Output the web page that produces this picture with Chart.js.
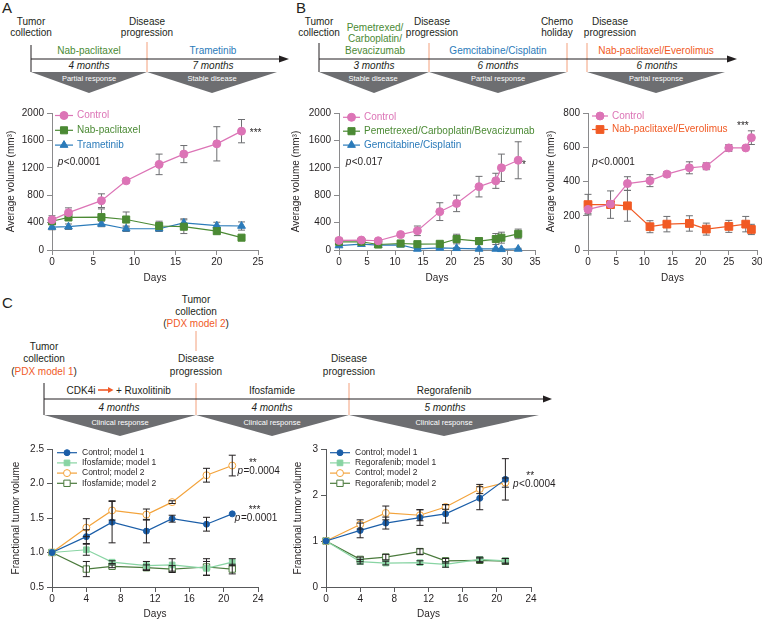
<!DOCTYPE html>
<html>
<head>
<meta charset="utf-8">
<script src="https://cdn.jsdelivr.net/npm/chart.js@4.4.0/dist/chart.umd.min.js"></script>
<style>
  body { margin: 0; background: #fff; overflow: hidden; }
  #fig { position: relative; width: 762px; height: 620px; overflow: hidden; }
  #fig canvas { position: absolute; }
  #tl { position: absolute; left: 0; top: 0; }
</style>
</head>
<body>
<div id="fig">
<svg id="tl" width="762" height="620" font-family="'Liberation Sans', Arial, sans-serif" font-size="10" fill="#231f20" text-anchor="middle">
  <!-- panel A timeline -->
  <text x="2" y="13" font-size="15" text-anchor="start">A</text>
  <text x="31" y="24.5">Tumor</text><text x="31" y="36">collection</text>
  <text x="147" y="24.5">Disease</text><text x="147" y="36">progression</text>
  <text x="89" y="53.5" fill="#4b8a34">Nab-paclitaxel</text>
  <text x="213" y="53.5" fill="#2b7bba">Trametinib</text>
  <line x1="31" y1="45" x2="31" y2="72" stroke="#231f20"/>
  <line x1="147" y1="42" x2="147" y2="72" stroke="#f3a07c"/>
  <line x1="31" y1="59" x2="281" y2="59" stroke="#231f20"/>
  <polygon points="279,55.5 289,59 279,62.5" fill="#231f20"/>
  <text x="89" y="69" font-style="italic">4 months</text>
  <text x="213" y="69" font-style="italic">7 months</text>
  <polygon points="31,72 147,72 89,93" fill="#6d6e71"/>
  <polygon points="147,72 277,72 212,93" fill="#6d6e71"/>
  <text x="89" y="80.5" fill="#fff" font-size="7.5">Partial response</text>
  <text x="212" y="80.5" fill="#fff" font-size="7.5">Stable disease</text>

  <!-- panel B timeline -->
  <text x="296" y="13" font-size="15" text-anchor="start">B</text>
  <text x="319" y="24.5">Tumor</text><text x="319" y="36">collection</text>
  <text x="375" y="30.5" fill="#4b8a34">Pemetrexed/</text>
  <text x="375" y="42" fill="#4b8a34">Carboplatin/</text>
  <text x="375" y="53.5" fill="#4b8a34">Bevacizumab</text>
  <text x="432" y="24.5">Disease</text><text x="432" y="36">progression</text>
  <text x="498" y="53.5" fill="#2b7bba">Gemcitabine/Cisplatin</text>
  <text x="557" y="24.5">Chemo</text><text x="557" y="36">holiday</text>
  <text x="610" y="24.5">Disease</text><text x="610" y="36">progression</text>
  <text x="656" y="53.5" fill="#f15a24">Nab-paclitaxel/Everolimus</text>
  <line x1="319" y1="43" x2="319" y2="72" stroke="#231f20"/>
  <line x1="429" y1="43" x2="429" y2="72" stroke="#f3a07c"/>
  <line x1="567" y1="43" x2="567" y2="72" stroke="#f3a07c"/>
  <line x1="587" y1="43" x2="587" y2="72" stroke="#f3a07c"/>
  <line x1="319" y1="59" x2="729" y2="59" stroke="#231f20"/>
  <polygon points="727,55.5 737,59 727,62.5" fill="#231f20"/>
  <text x="374" y="69" font-style="italic">3 months</text>
  <text x="498" y="69" font-style="italic">6 months</text>
  <text x="657" y="69" font-style="italic">6 months</text>
  <polygon points="319,72 429,72 374,93" fill="#6d6e71"/>
  <polygon points="429,72 567,72 498,93" fill="#6d6e71"/>
  <polygon points="587,72 725,72 656,93" fill="#6d6e71"/>
  <text x="373" y="80.5" fill="#fff" font-size="7.5">Stable disease</text>
  <text x="498" y="80.5" fill="#fff" font-size="7.5">Partial response</text>
  <text x="656" y="80.5" fill="#fff" font-size="7.5">Partial response</text>

  <!-- panel C timeline -->
  <text x="2" y="308" font-size="15" text-anchor="start">C</text>
  <text x="196" y="303">Tumor</text><text x="196" y="315">collection</text>
  <text x="196" y="327">(<tspan fill="#f05a28">PDX model 2</tspan>)</text>
  <line x1="196" y1="331" x2="196" y2="351" stroke="#f3a07c"/>
  <text x="44" y="350">Tumor</text><text x="44" y="362">collection</text>
  <text x="44" y="374.5">(<tspan fill="#f05a28">PDX model 1</tspan>)</text>
  <text x="196" y="362">Disease</text><text x="196" y="374.5">progression</text>
  <text x="349" y="362">Disease</text><text x="349" y="374.5">progression</text>
  <line x1="44" y1="383" x2="44" y2="415" stroke="#231f20"/>
  <line x1="196" y1="383" x2="196" y2="415" stroke="#f3a07c"/>
  <line x1="349" y1="383" x2="349" y2="415" stroke="#f3a07c"/>
  <line x1="44" y1="399" x2="545" y2="399" stroke="#231f20"/>
  <polygon points="543,395.5 552,399 543,402.5" fill="#231f20"/>
  <text x="95.5" y="393.5" text-anchor="end">CDK4i</text>
  <line x1="98" y1="390" x2="109" y2="390" stroke="#f05a28" stroke-width="1.6"/>
  <polygon points="108,387 113.5,390 108,393" fill="#f05a28"/>
  <text x="116" y="393.5" text-anchor="start">+ Ruxolitinib</text>
  <text x="272" y="393.5">Ifosfamide</text>
  <text x="444" y="393.5">Regorafenib</text>
  <text x="119" y="410.5" font-style="italic">4 months</text>
  <text x="272" y="410.5" font-style="italic">4 months</text>
  <text x="445" y="410.5" font-style="italic">5 months</text>
  <polygon points="44,415 196,415 120,436" fill="#6d6e71"/>
  <polygon points="196,415 349,415 272,436" fill="#6d6e71"/>
  <polygon points="349,415 539,415 444,436" fill="#6d6e71"/>
  <text x="120" y="424.5" fill="#fff" font-size="7.5">Clinical response</text>
  <text x="272" y="424.5" fill="#fff" font-size="7.5">Clinical response</text>
  <text x="444" y="424.5" fill="#fff" font-size="7.5">Clinical response</text>
</svg>
<canvas id="chartA"></canvas>
<canvas id="chartB1"></canvas>
<canvas id="chartB2"></canvas>
<canvas id="chartC1"></canvas>
<canvas id="chartC2"></canvas>
</div>
<script>
// ---- data ----
// panel A
const daysA = [0, 2, 6, 9, 13, 16, 20, 23];
const controlA = [440, 545, 720, 1010, 1250, 1400, 1550, 1735];
const controlAErr = [60, 70, 100, 30, 150, 125, 250, 170];
const nabA = [420, 475, 480, 445, 350, 340, 275, 180];
const nabAErr = [50, 40, 120, 110, 70, 100, 40, 30];
const trameA = [335, 340, 380, 310, 310, 395, 355, 350];
const trameAErr = [40, 40, 40, 40, 40, 60, 50, 60];

// panel B, left
const daysB1 = [0, 4, 7, 11, 14, 18, 21, 25, 28, 29, 32];
const controlB1 = [140, 145, 135, 225, 280, 560, 680, 925, 1010, 1200, 1310];
const controlB1Err = [30, 30, 20, 30, 70, 130, 120, 150, 110, 200, 270];
const pcbB1 = [120, 120, 80, 95, 85, 90, 160, 130, 160, 180, 235];
const pcbB1Err = [40, 40, 30, 30, 30, 30, 70, 50, 80, 80, 70];
const gcB1 = [65, 85, 70, 75, 15, 30, 25, 15, 15, 10, 15];
const gcB1Err = [20, 20, 20, 20, 10, 10, 10, 10, 10, 10, 10];

// panel B, right
const daysB2 = [0, 4, 7, 11, 14, 18, 21, 25, 28, 29];
const controlB2 = [237, 268, 388, 405, 443, 480, 489, 596, 596, 656];
const controlB2Err = [25, 20, 40, 35, 15, 35, 20, 20, 5, 40];
const nabEvB2 = [265, 265, 258, 136, 151, 155, 122, 138, 151, 120];
const nabEvB2Err = [60, 80, 90, 35, 45, 45, 35, 35, 45, 30];

// panel C
const daysC = [0, 4, 7, 11, 14, 18, 21];
const ctrl1C = [1.0, 1.23, 1.44, 1.31, 1.49, 1.41, 1.56];
const ctrl1CErr = [0, 0.1, 0.3, 0.17, 0.05, 0.1, 0];
const ifo1C = [1.0, 1.04, 0.86, 0.81, 0.82, 0.77, 0.86];
const ifo1CErr = [0, 0.08, 0.02, 0.06, 0.09, 0.1, 0.05];
const ctrl2C = [1.0, 1.36, 1.61, 1.55, 1.73, 2.12, 2.26];
const ctrl2CErr = [0, 0.13, 0.14, 0.08, 0.02, 0.1, 0.15];
const ifo2C = [1.0, 0.76, 0.80, 0.78, 0.76, 0.79, 0.76];
const ifo2CErr = [0, 0.11, 0.02, 0.04, 0.05, 0.12, 0.07];

const ctrl1R = [1.0, 1.23, 1.39, 1.51, 1.59, 1.93, 2.34];
const ctrl1RErr = [0, 0.16, 0.13, 0.17, 0.2, 0.25, 0.45];
const rego1R = [1.0, 0.55, 0.52, 0.53, 0.49, 0.6, 0.57];
const rego1RErr = [0, 0.05, 0.04, 0.04, 0.06, 0.05, 0.05];
const ctrl2R = [1.0, 1.36, 1.61, 1.56, 1.74, 2.13, 2.27];
const ctrl2RErr = [0, 0.1, 0.15, 0.12, 0.05, 0.1, 0.1];
const rego2R = [1.0, 0.6, 0.65, 0.77, 0.57, 0.58, 0.56];
const rego2RErr = [0, 0.05, 0.06, 0.06, 0.05, 0.05, 0.06];

// ---- styles ----
const FAM = "'Liberation Sans', Arial, sans-serif";
const INK = '#231f20';
const PINK = '#dc74b6', GREEN = '#4b8a34', BLUE = '#2b7bba', ORANGE = '#f15a24';
const C_BLUE = '#1b5ea8', C_LGREEN = '#88d4a3', C_ORANGE = '#f3a33b', C_DGREEN = '#4a7a3c';

function series(label, days, vals, err, color, style, radius, hollow) {
    return {
        label: label,
        err: err,
        data: days.map((d, i) => ({ x: d, y: vals[i] })),
        borderColor: color,
        backgroundColor: color,
        borderWidth: 1.2,
        pointStyle: style,
        pointRadius: radius,
        pointHoverRadius: radius,
        pointBackgroundColor: hollow ? '#ffffff' : color,
        pointBorderColor: color,
        pointBorderWidth: 1,
        tension: 0,
        clip: false
    };
}

function errorBarPlugin(color, front) {
    const draw = chart => {
        const ctx = chart.ctx, y = chart.scales.y;
        ctx.save();
        ctx.strokeStyle = color;
        ctx.lineWidth = 1;
        chart.data.datasets.forEach((ds, di) => {
            chart.getDatasetMeta(di).data.forEach((pt, i) => {
                const e = ds.err[i];
                if (!e) return;
                const v = ds.data[i].y;
                const top = y.getPixelForValue(v + e);
                const bot = y.getPixelForValue(Math.max(v - e, y.min));
                ctx.beginPath();
                ctx.moveTo(pt.x, top); ctx.lineTo(pt.x, bot);
                ctx.moveTo(pt.x - 3.5, top); ctx.lineTo(pt.x + 3.5, top);
                ctx.moveTo(pt.x - 3.5, bot); ctx.lineTo(pt.x + 3.5, bot);
                ctx.stroke();
            });
        });
        ctx.restore();
    };
    return front ? { id: 'errorBars', afterDatasetsDraw: draw } : { id: 'errorBars', beforeDatasetsDraw: draw };
}

// in-plot legend and text notes
function overlayPlugin(cfg) {
    return {
        id: 'overlay',
        afterDraw(chart) {
            const ctx = chart.ctx, ca = chart.chartArea, sx = chart.scales.x, sy = chart.scales.y;
            const lg = cfg.legend;
            ctx.save();
            ctx.textBaseline = 'middle';
            chart.data.datasets.forEach((ds, i) => {
                const lx = ca.left + lg.dx, ly = ca.top + lg.dy + i * lg.gap;
                ctx.strokeStyle = ds.borderColor;
                ctx.lineWidth = ds.borderWidth;
                ctx.beginPath(); ctx.moveTo(lx, ly); ctx.lineTo(lx + lg.len, ly); ctx.stroke();
                ctx.fillStyle = ds.pointBackgroundColor;
                ctx.strokeStyle = ds.pointBorderColor;
                ctx.lineWidth = ds.pointBorderWidth;
                Chart.helpers.drawPoint(ctx, { pointStyle: ds.pointStyle, radius: ds.pointRadius, rotation: 0, borderWidth: ds.pointBorderWidth }, lx + lg.len / 2, ly);
                ctx.font = lg.size + 'px ' + FAM;
                ctx.fillStyle = lg.textColor || ds.borderColor;
                ctx.textAlign = 'left';
                ctx.fillText(ds.label, lx + lg.len + lg.pad, ly);
            });
            cfg.notes.forEach(n => {
                const x = sx.getPixelForValue(n.x), y = sy.getPixelForValue(n.y);
                const norm = n.size + 'px ' + FAM;
                ctx.fillStyle = INK;
                if (n.italicP) {
                    ctx.font = 'italic ' + norm;
                    ctx.textAlign = 'left';
                    const wp = ctx.measureText('p').width;
                    ctx.fillText('p', x, y);
                    ctx.font = norm;
                    ctx.fillText(n.text, x + wp + 0.5, y);
                } else {
                    ctx.font = norm;
                    ctx.textAlign = n.align || 'left';
                    ctx.fillText(n.text, x, y);
                }
            });
            ctx.restore();
        }
    };
}

function buildChart(id, lay, ax, datasets, extra) {
    const cv = document.getElementById(id);
    const left = lay.l - lay.yW, top = lay.t - lay.padT;
    cv.width = lay.r + lay.padR - left;
    cv.height = lay.b + lay.xH - top;
    cv.style.left = left + 'px';
    cv.style.top = top + 'px';
    const fs = ax.fontSize, lh = fs * 1.2;
    const font = { family: FAM, size: fs };
    const grid = { display: true, drawOnChartArea: false, drawTicks: true, tickLength: 5, color: ax.color, lineWidth: 1 };
    const border = { color: ax.color, width: 1 };
    return new Chart(cv, {
        type: 'line',
        data: { datasets: datasets },
        options: {
            responsive: false,
            animation: false,
            devicePixelRatio: 1,
            layout: { padding: { left: 0, top: lay.padT, right: lay.padR, bottom: 0 } },
            plugins: { legend: { display: false }, tooltip: { enabled: false } },
            scales: {
                x: {
                    type: 'linear', min: ax.xMin, max: ax.xMax,
                    grid: grid, border: border,
                    ticks: { stepSize: ax.xStep, color: INK, font: font, padding: 1, maxRotation: 0, autoSkip: false },
                    title: { display: true, text: 'Days', color: INK, font: font,
                             padding: { top: 0, bottom: lay.b + lay.xH - lay.xTitleY - lh / 2 } },
                    afterFit: s => { s.height = lay.xH; }
                },
                y: {
                    type: 'linear', min: ax.yMin, max: ax.yMax,
                    grid: grid, border: border,
                    ticks: { stepSize: ax.yStep, color: INK, font: font, padding: 3, autoSkip: false,
                             callback: v => v.toFixed(ax.yDec) },
                    title: { display: true, text: ax.yTitle, color: INK, font: font,
                             padding: { top: lay.yTitleX - left - lh / 2, bottom: 0 } },
                    afterFit: s => { s.width = lay.yW; }
                }
            }
        },
        plugins: [errorBarPlugin(ax.errColor, ax.errFront), overlayPlugin(extra)]
    });
}

// ---- panel A ----
buildChart('chartA',
    { l: 52, t: 113, r: 258, b: 250, yW: 48, padT: 13, padR: 40, xH: 36, yTitleX: 11.7, xTitleY: 278 },
    { xMin: 0, xMax: 25, xStep: 5, yMin: 0, yMax: 2000, yStep: 400, yDec: 0, fontSize: 10,
      color: '#8a8a8c', yTitle: 'Average volume (mm³)', errColor: '#6d6e71', errFront: false },
    [
        series('Control', daysA, controlA, controlAErr, PINK, 'circle', 4, false),
        series('Nab-paclitaxel', daysA, nabA, nabAErr, GREEN, 'rect', 5, false),
        series('Trametinib', daysA, trameA, trameAErr, BLUE, 'triangle', 4.5, false)
    ],
    { legend: { dx: 3, dy: 2.5, gap: 14.8, len: 18, pad: 4, size: 10 },
      notes: [
          { x: 24.0, y: 1705, text: '***', size: 10 },
          { x: 0.7, y: 1286, text: '<0.0001', size: 10, italicP: true }
      ] });

// ---- panel B ----
buildChart('chartB1',
    { l: 339, t: 113, r: 535, b: 250, yW: 50, padT: 13, padR: 25, xH: 36, yTitleX: 296.7, xTitleY: 278 },
    { xMin: 0, xMax: 35, xStep: 5, yMin: 0, yMax: 2000, yStep: 400, yDec: 0, fontSize: 10,
      color: '#8a8a8c', yTitle: 'Average volume (mm³)', errColor: '#6d6e71', errFront: false },
    [
        series('Control', daysB1, controlB1, controlB1Err, PINK, 'circle', 4, false),
        series('Pemetrexed/Carboplatin/Bevacizumab', daysB1, pcbB1, pcbB1Err, GREEN, 'rect', 5, false),
        series('Gemcitabine/Cisplatin', daysB1, gcB1, gcB1Err, BLUE, 'triangle', 4.5, false)
    ],
    { legend: { dx: 4, dy: 4.3, gap: 13.9, len: 17, pad: 4, size: 10 },
      notes: [
          { x: 32.7, y: 1238, text: '*', size: 10 },
          { x: 1.2, y: 1282, text: '<0.017', size: 10, italicP: true }
      ] });

buildChart('chartB2',
    { l: 588, t: 113, r: 757, b: 250, yW: 44, padT: 13, padR: 12, xH: 36, yTitleX: 551.7, xTitleY: 278 },
    { xMin: 0, xMax: 30, xStep: 5, yMin: 0, yMax: 800, yStep: 200, yDec: 0, fontSize: 10,
      color: '#8a8a8c', yTitle: 'Average volume (mm³)', errColor: '#6d6e71', errFront: false },
    [
        series('Control', daysB2, controlB2, controlB2Err, PINK, 'circle', 4, false),
        series('Nab-paclitaxel/Everolimus', daysB2, nabEvB2, nabEvB2Err, ORANGE, 'rect', 5.5, false)
    ],
    { legend: { dx: 4, dy: 3, gap: 13.5, len: 16, pad: 4, size: 10 },
      notes: [
          { x: 27.5, y: 722, text: '***', size: 10, align: 'center' },
          { x: 0.76, y: 512, text: '<0.0001', size: 10, italicP: true }
      ] });

// ---- panel C ----
buildChart('chartC1',
    { l: 52, t: 449, r: 258, b: 587, yW: 43, padT: 12, padR: 40, xH: 33, yTitleX: 16.7, xTitleY: 614 },
    { xMin: 0, xMax: 24, xStep: 4, yMin: 0.5, yMax: 2.5, yStep: 0.5, yDec: 1, fontSize: 10,
      color: '#58595b', yTitle: 'Franctional tumor volume', errColor: INK, errFront: true },
    [
        series('Control; model 1', daysC, ctrl1C, ctrl1CErr, C_BLUE, 'circle', 3, false),
        series('Ifosfamide; model 1', daysC, ifo1C, ifo1CErr, C_LGREEN, 'rect', 4, false),
        series('Control; model 2', daysC, ctrl2C, ctrl2CErr, C_ORANGE, 'circle', 3.5, true),
        series('Ifosfamide; model 2', daysC, ifo2C, ifo2CErr, C_DGREEN, 'rect', 4.5, true)
    ],
    { legend: { dx: 5, dy: 3.7, gap: 10.2, len: 20, pad: 5, size: 8.5, textColor: INK },
      notes: [
          { x: 23.4, y: 2.29, text: '**', size: 10, align: 'center' },
          { x: 21.6, y: 2.18, text: '=0.0004', size: 10, italicP: true },
          { x: 23.6, y: 1.61, text: '***', size: 10, align: 'center' },
          { x: 21.3, y: 1.50, text: '=0.0001', size: 10, italicP: true }
      ] });

buildChart('chartC2',
    { l: 326, t: 449, r: 531, b: 587, yW: 36, padT: 12, padR: 40, xH: 33, yTitleX: 298.3, xTitleY: 614 },
    { xMin: 0, xMax: 24, xStep: 4, yMin: 0, yMax: 3, yStep: 1, yDec: 0, fontSize: 10,
      color: '#58595b', yTitle: 'Franctional tumor volume', errColor: INK, errFront: true },
    [
        series('Control; model 1', daysC, ctrl1R, ctrl1RErr, C_BLUE, 'circle', 3, false),
        series('Regorafenib; model 1', daysC, rego1R, rego1RErr, C_LGREEN, 'rect', 4, false),
        series('Control; model 2', daysC, ctrl2R, ctrl2RErr, C_ORANGE, 'circle', 3.5, true),
        series('Regorafenib; model 2', daysC, rego2R, rego2RErr, C_DGREEN, 'rect', 4.5, true)
    ],
    { legend: { dx: 4, dy: 3.7, gap: 10.2, len: 20, pad: 5, size: 8.5, textColor: INK },
      notes: [
          { x: 23.9, y: 2.41, text: '**', size: 10, align: 'center' },
          { x: 21.9, y: 2.24, text: '<0.0004', size: 10, italicP: true }
      ] });
</script>
</body>
</html>
